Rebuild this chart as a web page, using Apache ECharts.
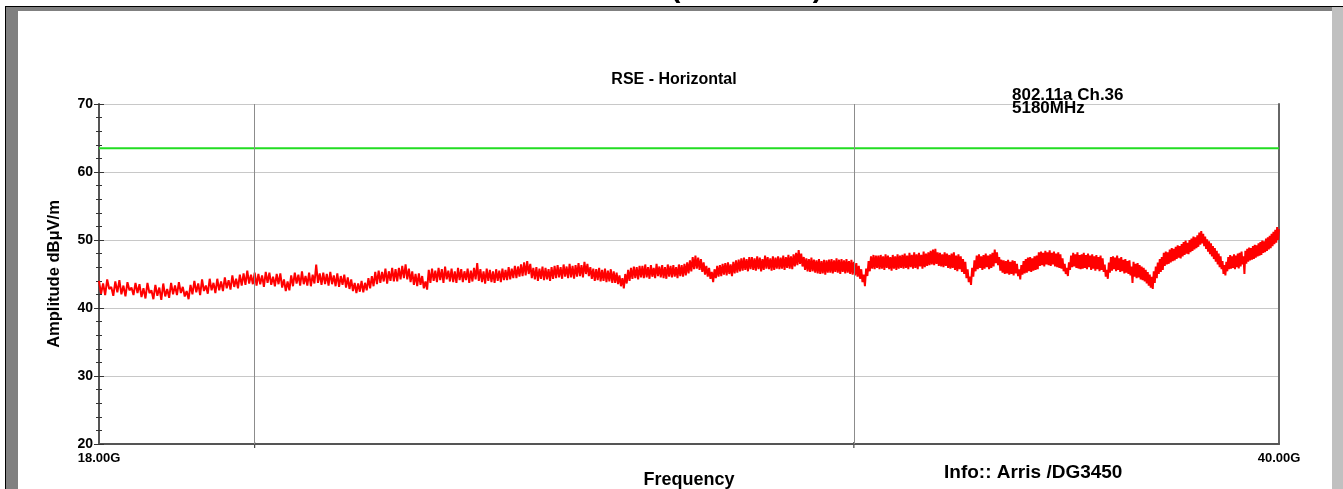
<!DOCTYPE html>
<html>
<head>
<meta charset="utf-8">
<script src="https://cdn.jsdelivr.net/npm/echarts@6/dist/echarts.min.js"></script>
<style>
  html, body { margin: 0; padding: 0; background: #ffffff; overflow: hidden; }
  #chart { width: 1343px; height: 489px; }
</style>
</head>
<body>
<div id="chart"></div>
<script>
// Sweep settings (GHz): linear sweep from 18 to 40 GHz, 881 points
const sweepStartGHz = 18;
const sweepStepGHz = 0.025;

// Measured amplitude (dBµV/m), one value per sweep point, 20 values per 0.5 GHz
const traceValues = [
  44.0,42.1,43.6,41.9,44.2,42.8,43.1,41.8,43.9,42.3,44.1,42.0,43.3,41.7,43.8,42.6,43.0,41.9,43.7,42.2,
  43.5,41.6,42.9,41.4,43.7,42.2,42.6,41.3,43.4,41.8,43.0,41.2,43.6,41.7,42.8,41.5,43.7,42.0,43.3,41.9,
  43.8,42.2,43.1,41.7,42.5,41.3,43.4,42.0,44.0,42.3,43.6,41.9,44.2,42.5,43.3,42.1,44.3,42.6,43.7,42.2,
  44.3,42.6,43.9,42.5,44.5,42.9,44.1,42.7,44.8,43.1,44.3,42.9,44.9,43.3,45.1,43.4,45.5,43.6,44.9,43.5,
  45.2,43.3,45.0,43.5,44.8,43.1,45.3,43.7,45.2,43.4,44.6,43.2,45.0,43.5,45.1,43.0,44.2,42.5,43.9,42.6,
  44.8,43.2,45.2,43.6,44.9,43.3,45.4,43.5,44.7,43.3,45.2,43.2,44.9,43.6,46.4,43.7,45.1,43.4,45.2,43.5,
  45.0,43.3,45.3,43.5,44.8,43.2,45.1,43.1,44.7,43.4,44.9,43.0,44.5,42.8,44.2,42.5,43.7,42.2,43.6,42.4,
  44.0,42.3,43.7,42.6,44.4,42.9,44.7,43.2,45.3,43.5,45.5,43.7,45.3,43.9,45.8,43.6,45.4,44.0,45.9,43.9,
  45.7,43.9,45.9,44.2,46.2,44.4,46.4,44.2,45.8,43.8,45.4,43.4,45.0,43.2,45.1,43.4,44.7,42.9,43.9,42.7,
  45.6,43.7,45.8,44.0,45.5,43.8,45.9,44.1,45.7,43.7,46.1,44.2,45.5,43.9,45.8,43.8,45.4,43.7,45.9,44.1,
  45.7,43.8,45.4,44.1,45.8,43.7,45.5,43.9,45.9,44.2,46.6,44.0,45.7,43.8,45.4,43.6,45.8,44.0,45.6,43.8,
  45.4,43.7,45.7,44.0,45.5,43.8,45.8,44.1,45.6,44.1,46.0,44.2,45.8,44.4,46.2,44.4,46.1,44.6,46.4,44.7,
  46.7,44.8,46.9,45.0,46.5,44.4,45.9,44.2,46.0,44.0,45.8,44.3,46.1,44.1,45.9,44.2,45.7,44.0,46.0,44.3,
  46.2,44.4,46.3,44.5,46.0,44.3,46.4,44.6,46.1,44.4,46.5,44.5,46.2,44.3,46.3,44.6,46.6,44.7,46.3,44.5,
  46.8,45.0,46.5,44.7,46.0,44.3,45.8,44.0,45.7,44.1,45.9,43.9,45.6,44.0,45.8,43.8,45.5,43.9,45.7,43.7,
  45.4,43.7,45.2,43.5,44.8,43.2,44.4,42.9,45.0,43.6,45.6,44.0,45.9,44.3,46.1,44.4,46.0,44.2,46.2,44.5,
  46.2,44.4,46.4,44.5,46.0,44.3,46.3,44.6,45.9,44.4,46.5,44.7,46.1,44.5,46.3,44.4,46.0,44.3,46.4,44.6,
  46.2,44.5,46.3,44.6,46.0,44.4,46.4,44.7,46.3,44.6,46.5,44.8,46.7,45.1,47.0,45.4,47.5,45.7,47.7,45.8,
  47.4,45.6,47.2,45.3,46.7,44.9,46.2,44.6,45.9,44.3,45.3,43.8,45.7,44.4,46.2,44.6,46.3,44.7,46.5,44.9,
  46.6,44.8,46.7,45.0,46.4,44.7,46.8,45.1,47.0,45.2,47.1,45.4,47.3,45.5,47.4,45.6,47.2,45.4,47.5,45.7,
  47.5,45.6,47.3,45.5,47.6,45.7,47.4,45.4,47.2,45.6,47.7,45.8,47.5,45.7,47.3,45.5,47.6,45.6,47.4,45.8,
  47.6,45.7,47.4,45.8,47.7,45.6,47.5,45.9,47.8,45.8,47.6,45.7,47.9,46.1,48.1,46.3,48.5,46.5,48.0,46.1,
  47.5,45.6,47.3,45.4,47.2,45.3,47.4,45.4,47.1,45.2,47.0,45.1,47.2,45.0,46.9,45.1,47.1,44.9,47.0,45.2,
  47.1,45.2,47.2,45.1,47.0,45.3,47.3,45.2,47.1,45.0,47.2,45.3,47.0,45.1,47.2,45.2,46.9,45.0,47.1,44.9,
  46.8,44.8,46.6,44.6,46.2,44.3,45.7,43.8,44.9,43.2,45.8,44.7,46.9,45.4,47.6,45.8,47.8,45.7,47.7,45.9,
  47.7,45.7,47.8,45.8,47.6,45.6,47.9,45.9,47.7,45.7,47.5,45.5,47.8,45.8,47.6,45.6,47.9,45.8,47.7,45.9,
  47.8,45.8,48.0,45.9,47.7,45.7,48.1,46.0,47.8,45.8,48.2,45.9,47.9,45.7,48.1,46.1,47.8,45.8,48.3,46.0,
  48.0,46.2,48.2,46.3,48.4,46.4,48.6,46.3,48.7,46.5,48.2,46.2,48.1,46.1,47.9,46.0,48.2,46.2,48.0,45.9,
  47.8,45.8,48.0,45.9,48.2,45.6,47.7,45.4,47.9,45.7,47.6,45.3,47.2,45.0,46.8,44.4,45.7,43.8,44.6,43.4,
  45.9,44.6,47.0,45.4,47.7,45.7,47.9,45.9,47.6,45.6,47.8,45.8,48.0,46.0,47.7,45.7,47.9,45.9,48.1,46.1,
  48.6,46.6,48.2,46.3,47.5,45.5,47.1,45.2,47.0,45.0,46.9,45.1,47.1,44.9,46.8,45.0,47.0,44.8,46.9,45.1,
  46.5,44.7,45.7,44.2,46.3,44.9,46.9,45.1,47.2,45.2,47.4,45.4,47.5,45.3,47.3,45.5,47.6,45.6,47.7,45.7,
  48.2,46.2,48.3,46.3,48.1,46.1,48.4,46.4,48.2,46.3,48.5,46.2,48.1,46.4,48.3,46.1,48.0,46.0,48.2,45.9,
  47.9,45.8,47.3,45.4,46.5,45.0,45.9,44.7,46.7,45.6,47.7,46.0,48.1,46.1,47.9,45.9,48.2,45.8,47.8,45.7,
  47.9,45.8,48.1,45.9,47.8,45.7,48.0,46.0,47.7,45.6,47.9,45.8,47.6,45.5,47.8,45.7,47.5,45.4,47.7,45.6,
  47.3,45.3,46.4,44.6,45.6,44.3,46.7,45.2,47.5,45.5,47.6,45.7,47.4,45.4,47.7,45.6,47.3,45.3,47.5,45.4,
  47.1,45.1,47.2,45.2,46.9,45.0,47.0,44.8,46.1,43.7,46.8,44.6,46.5,44.4,46.6,44.5,46.3,44.2,46.1,44.1,
  45.9,43.9,45.6,43.6,45.3,43.3,44.9,43.0,44.6,42.8,45.4,43.7,46.1,44.4,46.7,45.0,47.2,45.3,47.5,45.6,
  48.1,46.2,48.3,46.4,48.2,46.5,48.6,46.7,48.8,46.9,48.7,47.0,49.0,47.2,49.2,47.4,49.1,47.3,49.4,47.6,
  49.7,47.8,49.9,48.0,49.6,47.9,50.0,48.2,50.2,48.4,50.5,48.6,50.4,48.8,50.7,49.0,51.1,49.3,51.3,49.5,
  50.9,49.1,50.5,48.7,50.1,48.3,49.8,47.9,49.5,47.6,49.1,47.2,48.8,46.8,48.4,46.4,48.0,46.0,47.6,45.7,
  46.9,45.0,46.3,44.8,46.8,45.4,47.5,45.7,47.8,45.8,47.6,45.9,47.9,45.7,47.7,46.0,48.0,45.8,48.1,46.1,
  48.3,46.4,47.6,45.0,48.4,46.5,48.7,46.8,48.9,47.0,48.8,47.1,49.1,47.2,49.3,47.4,49.2,47.6,49.5,47.7,
  49.7,47.8,49.9,48.1,49.8,48.2,50.2,48.4,50.4,48.6,50.6,48.8,50.9,49.1,51.2,49.4,51.5,49.6,51.9,50.0,
  51.6
];

// Limit line (dBµV/m) over the whole span
const limitLevel = 63.5;
const spanGHz = [18, 40];

// Frequency gridlines and end labels (GHz)
const gridFreqs = [20, 30];
const endLabelFreqs = [18, 40];

// Amplitude axis ticks (dBµV/m)
const ampMin = 20, ampMax = 70, ampStep = 10;

const FONT = "'Liberation Sans', Arial, sans-serif";

const tracePoints = traceValues.map((v, i) => [
  +(sweepStartGHz + i * sweepStepGHz).toFixed(3), v
]);

const chart = echarts.init(document.getElementById('chart'), null,
  { renderer: 'canvas', width: 1343, height: 489 });

// Fixed plot rectangle; axis names may sit close to the page edge
const grid = { left: 99, right: 64, top: 104, bottom: 45, outerBoundsMode: 'none', containLabel: false };

const yBase = { type: 'value', min: ampMin, max: ampMax, interval: ampStep, position: 'left' };

chart.setOption({
  animation: false,
  backgroundColor: '#ffffff',
  grid: grid,
  xAxis: {
    type: 'log', logBase: 10, min: spanGHz[0], max: spanGHz[1],
    name: 'Frequency', nameLocation: 'middle', nameGap: 27,
    nameTextStyle: { fontFamily: FONT, fontWeight: 'bold', fontSize: 18, color: '#000' },
    axisLine: { show: true, lineStyle: { color: '#555555', width: 2 } },
    axisTick: { show: false },
    axisLabel: { show: false },
    splitLine: { show: false },
    minorTick: { show: false },
    minorSplitLine: { show: false }
  },
  yAxis: [
    Object.assign({}, yBase, {
      name: 'Amplitude dBμV/m', nameLocation: 'middle', nameGap: 36, nameRotate: 90,
      nameTextStyle: { fontFamily: FONT, fontWeight: 'bold', fontSize: 16.5, color: '#000' },
      axisLine: { show: true, lineStyle: { color: '#555555', width: 2 } },
      axisTick: { show: true, length: 5, lineStyle: { color: '#333333', width: 1 } },
      minorTick: { show: true, splitNumber: 5, length: 3, lineStyle: { color: '#333333', width: 1 } },
      axisLabel: { fontFamily: FONT, fontWeight: 'bold', fontSize: 14, color: '#000', margin: 6 },
      splitLine: { show: true, lineStyle: { color: '#c8c8c8', width: 1 } }
    }),
    Object.assign({}, yBase, {
      axisLine: { show: false },
      axisTick: { show: true, inside: true, length: 5, lineStyle: { color: '#333333', width: 1 } },
      minorTick: { show: true, splitNumber: 5, length: 3, lineStyle: { color: '#333333', width: 1 } },
      axisLabel: { show: false },
      splitLine: { show: false }
    }),
    Object.assign({}, yBase, {
      position: 'right',
      axisLine: { show: true, lineStyle: { color: '#666666', width: 2 } },
      axisTick: { show: false },
      axisLabel: { show: false },
      splitLine: { show: false }
    })
  ],
  series: [
    {
      name: 'Limit', type: 'line', yAxisIndex: 0, z: 2,
      data: [[spanGHz[0], limitLevel], [spanGHz[1], limitLevel]],
      showSymbol: false, symbol: 'none',
      lineStyle: { color: '#22dd22', width: 2 },
      silent: true,
      markLine: {
        silent: true, symbol: 'none', label: { show: false },
        lineStyle: { color: '#8c8c8c', width: 1, type: 'solid' },
        data: gridFreqs.map(f => ({ xAxis: f }))
      }
    },
    {
      name: 'Trace', type: 'line', yAxisIndex: 0, z: 3,
      data: tracePoints,
      showSymbol: false, symbol: 'none',
      lineStyle: { color: '#ff0000', width: 2 },
      silent: true
    }
  ]
});

// Labels, ticks and the window frame placed through the axis scales
const toPx = pt => chart.convertToPixel({ xAxisIndex: 0, yAxisIndex: 0 }, pt);
const graphics = [];

endLabelFreqs.forEach(f => {
  const p = toPx([f, ampMin]);
  graphics.push({
    type: 'text', x: p[0], y: p[1] + 8, silent: true,
    style: { text: f.toFixed(2) + 'G', fontFamily: FONT, fontWeight: 'bold', fontSize: 13,
             fill: '#000', align: 'center', verticalAlign: 'top' }
  });
});
gridFreqs.forEach(f => {
  const p = toPx([f, ampMin]);
  graphics.push({
    type: 'line', silent: true,
    shape: { x1: p[0], y1: p[1] - 2, x2: p[0], y2: p[1] + 4 },
    style: { stroke: '#222', lineWidth: 1 }
  });
});

const texts = [
  { text: 'Horizontal (18-40GHz)', x: 521, y: -11, size: 29, align: 'left' },
  { text: 'RSE - Horizontal', x: 674, y: 80, size: 16, align: 'center' },
  { text: '802.11a Ch.36', x: 1012, y: 95, size: 17, align: 'left' },
  { text: '5180MHz', x: 1012, y: 108, size: 17, align: 'left' },
  { text: 'Info:: Arris /DG3450', x: 944, y: 473, size: 19, align: 'left' }
];
texts.forEach(t => graphics.push({
  type: 'text', x: t.x, y: t.y, silent: true,
  style: { text: t.text, fontFamily: FONT, fontWeight: 'bold', fontSize: t.size, fill: '#000',
           align: t.align, verticalAlign: 'middle' }
}));

// Window frame: dark left bevel, top edge, light right bevel
graphics.push(
  { type: 'rect', silent: true, z: 100, shape: { x: 5, y: 6, width: 1338, height: 1 }, style: { fill: '#000000' } },
  { type: 'rect', silent: true, z: 100, shape: { x: 5, y: 7, width: 1328, height: 4 }, style: { fill: '#808080' } },
  { type: 'rect', silent: true, z: 100, shape: { x: 5, y: 6, width: 1, height: 483 }, style: { fill: '#000000' } },
  { type: 'rect', silent: true, z: 100, shape: { x: 6, y: 7, width: 12, height: 482 }, style: { fill: '#808080' } },
  { type: 'rect', silent: true, z: 100, shape: { x: 1332, y: 7, width: 11, height: 482 }, style: { fill: '#c0c0c0' } }
);

chart.setOption({ graphic: graphics });
</script>
</body>
</html>
